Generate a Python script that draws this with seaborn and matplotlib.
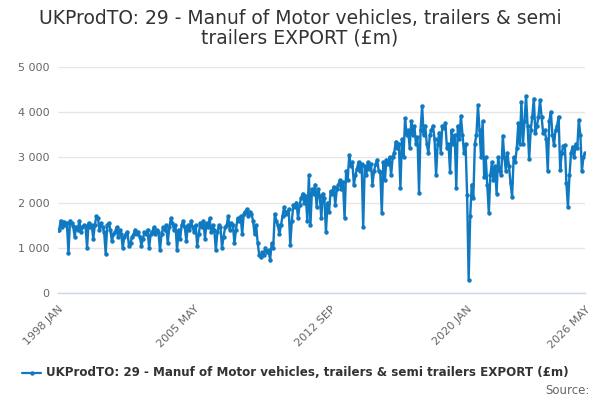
import numpy as np
import pandas as pd
import seaborn as sns
import matplotlib.pyplot as plt

# monthly export values (£m), 1998 JAN .. 2026 MAY
y1998 = [1400, 1390, 1600, 1450, 1580, 1500, 1550, 880, 1600, 1550, 1480, 1250]
y1999 = [1450, 1400, 1600, 1350, 1450, 1500, 1480, 1000, 1550, 1450, 1500, 1200]
y2000 = [1500, 1700, 1650, 1400, 1550, 1450, 1350, 870, 1500, 1550, 1400, 1150]
y2001 = [1300, 1350, 1450, 1250, 1400, 1300, 1000, 1250, 1300, 1350, 1050, 1100]
y2002 = [1250, 1300, 1400, 1300, 1350, 1250, 1050, 1200, 1350, 1300, 1400, 1000]
y2003 = [1300, 1350, 1450, 1300, 1400, 1350, 950, 1300, 1450, 1400, 1500, 1100]
y2004 = [1450, 1650, 1550, 1400, 1500, 950, 1400, 1200, 1500, 1600, 1450, 1150]
y2005 = [1500, 1400, 1600, 1450, 1350, 1500, 1050, 1300, 1550, 1450, 1600, 1200]
y2006 = [1550, 1450, 1650, 1350, 1500, 1400, 950, 1350, 1500, 1450, 1000, 1250]
y2007 = [1450, 1500, 1700, 1400, 1550, 1500, 1100, 1400, 1650, 1600, 1700, 1300]
y2008 = [1750, 1800, 1850, 1700, 1800, 1750, 1600, 1300, 1500, 1100, 840, 800]
y2009 = [900, 850, 1000, 900, 950, 730, 1100, 1000, 1750, 1600, 1500, 1300]
y2010 = [1500, 1700, 1900, 1750, 1800, 1850, 1060, 1600, 1950, 1900, 2000, 1650]
y2011 = [1950, 2100, 2200, 2000, 2150, 1600, 2600, 1500, 2300, 2200, 2400, 1900]
y2012 = [2300, 2150, 1650, 2200, 2100, 1350, 2000, 1800, 2250, 2200, 2350, 1950]
y2013 = [2300, 2400, 2500, 2300, 2450, 1650, 2700, 2500, 3050, 2800, 2900, 2400]
y2014 = [2600, 2750, 2900, 2700, 2850, 1460, 2800, 2600, 2900, 2750, 2850, 2400]
y2015 = [2700, 2850, 2950, 2700, 2680, 1770, 2900, 2500, 2950, 2850, 3000, 2600]
y2016 = [3000, 3100, 3350, 3200, 3300, 2320, 3400, 3000, 3870, 3500, 3600, 3200]
y2017 = [3800, 3500, 3700, 3300, 3450, 2220, 3600, 4140, 3500, 3700, 3300, 3100]
y2018 = [3500, 3600, 3700, 3400, 2600, 3300, 3550, 3100, 3700, 3650, 3760, 3200]
y2019 = [3300, 2680, 3600, 3300, 3500, 2330, 3700, 3400, 3920, 3500, 3100, 3300]
y2020 = [2170, 290, 1700, 2400, 2100, 3300, 3500, 4150, 3600, 3000, 3800, 2570]
y2021 = [3000, 2400, 1770, 2600, 2900, 2500, 2800, 2200, 3000, 2700, 2600, 3480]
y2022 = [3000, 2700, 3100, 2800, 2430, 2120, 3000, 2900, 3200, 3750, 3300, 4230]
y2023 = [3300, 3800, 4360, 3700, 2960, 3600, 3900, 4300, 3540, 3700, 3900, 4270]
y2024 = [3900, 3540, 3600, 3400, 2690, 3800, 4010, 3500, 3270, 3600, 3700, 3900]
y2025 = [2720, 3100, 3250, 3270, 2430, 1900, 2600, 3100, 3240, 3000, 3300, 3200]
y2026 = [3830, 3500, 2700, 3000, 3100]

series_name = "UKProdTO: 29 - Manuf of Motor vehicles, trailers & semi trailers EXPORT (£m)"
months = ["JAN", "FEB", "MAR", "APR", "MAY", "JUN", "JUL", "AUG", "SEP", "OCT", "NOV", "DEC"]

values = (y1998 + y1999 + y2000 + y2001 + y2002 + y2003 + y2004 + y2005 + y2006 + y2007
          + y2008 + y2009 + y2010 + y2011 + y2012 + y2013 + y2014 + y2015 + y2016
          + y2017 + y2018 + y2019 + y2020 + y2021 + y2022 + y2023 + y2024 + y2025 + y2026)
labels = [f"{1998 + i // 12} {months[i % 12]}" for i in range(len(values))]
df = pd.DataFrame({"idx": range(len(values)), "value": values, "label": labels})

sns.set_style("white")
plt.rcParams["font.family"] = ["DejaVu Sans"]

fig = plt.figure(figsize=(6, 4), dpi=100)
ax = fig.add_axes([0.096, 0.2675, 0.879, 0.565])

blue = "#0f79c2"
sns.lineplot(data=df, x="idx", y="value", ax=ax, color=blue, linewidth=1.7,
             marker="o", markersize=3.2, markeredgewidth=0, legend=False)

ax.set_xlim(0, len(values) - 1)
ax.set_ylim(0, 5000)
ax.set_xlabel("")
ax.set_ylabel("")

# y axis: gridlines, space-separated thousands
yt = [0, 1000, 2000, 3000, 4000, 5000]
ax.set_yticks(yt)
ax.set_yticklabels([f"{v:,}".replace(",", " ") for v in yt], color="#666666", fontsize=8)
ax.grid(axis="y", color="#e6e6e6", linewidth=1)
ax.tick_params(axis="y", length=0, pad=6)

# x axis: ticks every 22 months, labels every 88 plus the last one
last = len(values) - 1
ticks = list(range(0, last, 22)) + [last]
ax.set_xticks(ticks)
ax.set_xticklabels([labels[t] if (t % 88 == 0 or t == last) else "" for t in ticks],
                   rotation=45, ha="right", rotation_mode="anchor",
                   color="#666666", fontsize=8)
ax.tick_params(axis="x", length=5, color="#ccd6eb", width=1, pad=3)

for s in ["top", "right", "left"]:
    ax.spines[s].set_visible(False)
ax.spines["bottom"].set_color("#ccd6eb")
ax.spines["bottom"].set_linewidth(1)
ax.set_axisbelow(True)

fig.text(0.5, 0.955, "UKProdTO: 29 - Manuf of Motor vehicles, trailers & semi",
         ha="center", va="center", fontsize=13.5, color="#333333")
fig.text(0.5, 0.905, "trailers EXPORT (£m)",
         ha="center", va="center", fontsize=13.5, color="#333333")

# legend at the bottom
fig.lines.append(plt.Line2D([0.037, 0.068], [0.068, 0.068], transform=fig.transFigure,
                            color=blue, linewidth=1.6))
fig.lines.append(plt.Line2D([0.0525], [0.068], transform=fig.transFigure,
                            color=blue, marker="o", markersize=3.2, markeredgewidth=0))
fig.text(0.076, 0.068, series_name, ha="left", va="center", fontsize=8.6,
         fontweight="bold", color="#333333")
fig.text(0.982, 0.025, "Source:", ha="right", va="center", fontsize=8.5, color="#666666")

fig.savefig("out.png", dpi=100)
